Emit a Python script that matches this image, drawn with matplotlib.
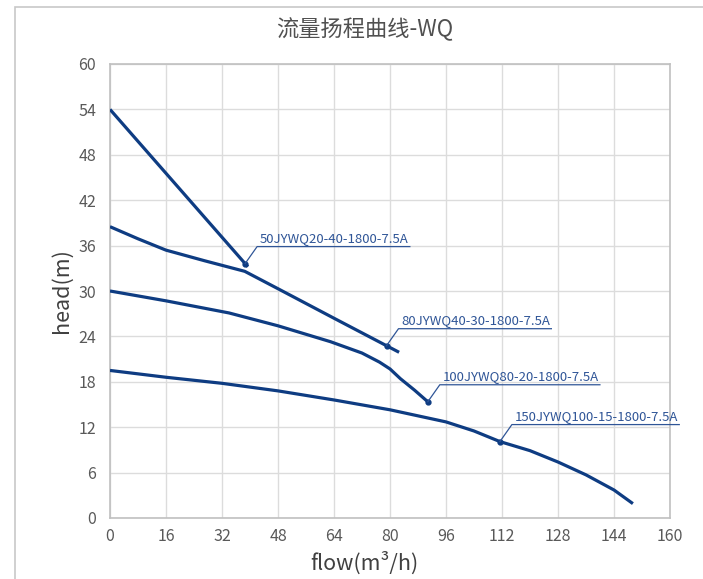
import numpy as np
import matplotlib
matplotlib.use('Agg')
import matplotlib.pyplot as plt
from matplotlib.lines import Line2D
from matplotlib.patches import Rectangle
from matplotlib.transforms import IdentityTransform

plt.rcParams['font.family'] = ['Noto Sans CJK SC', 'DejaVu Sans']

# 曲线数据 (flow m3/h, head m)
q1 = [0, 39.4]
h1 = [54, 33.2]

q2 = [0, 8, 16, 27, 38.5, 48, 64, 82.6]
h2 = [38.5, 36.9, 35.4, 34.0, 32.6, 30.3, 26.4, 21.9]

q3 = [0, 16, 34, 48, 63, 72, 77, 80, 83, 87, 91.2]
h3 = [30.0, 28.7, 27.1, 25.4, 23.3, 21.8, 20.6, 19.7, 18.4, 16.9, 15.2]

q4 = [0, 16, 32, 48, 64, 80, 96, 104, 111.4, 120, 128, 136, 144, 149.4]
h4 = [19.5, 18.6, 17.8, 16.8, 15.6, 14.3, 12.7, 11.5, 10.1, 8.9, 7.4, 5.7, 3.7, 1.9]

curves = [(q1, h1), (q2, h2), (q3, h3), (q4, h4)]
names = ['50JYWQ20-40-1800-7.5A', '80JYWQ40-30-1800-7.5A',
         '100JYWQ80-20-1800-7.5A', '150JYWQ100-15-1800-7.5A']
label_q = [38.6, 79.0, 90.8, 111.4]

xticks = [0, 16, 32, 48, 64, 80, 96, 112, 128, 144, 160]
yticks = [0, 6, 12, 18, 24, 30, 36, 42, 48, 54, 60]

line_color = '#0E3C82'
ann_color = '#2F5597'

W, H = 703, 579
fig = plt.figure(figsize=(W / 100, H / 100), dpi=100)
ax = fig.add_axes([110 / W, 1 - 518 / H, 560 / W, 454 / H])

# 外框
fig.patches.append(Rectangle((15 / W, -0.1), 1.2, 1 - 7 / H + 0.1, transform=fig.transFigure,
                             fill=False, edgecolor='#c8c8c8', linewidth=1.2))

for q, h in curves:
    ax.plot(q, h, color=line_color, linewidth=2.3, solid_capstyle='butt', zorder=3)

ax.set_xlim(0, 160)
ax.set_ylim(0, 60)
ax.set_xticks(xticks)
ax.set_yticks(yticks)
ax.grid(True, color='#dcdcdc', linewidth=1)
ax.set_axisbelow(True)
for s in ax.spines.values():
    s.set_color('#c0c0c0')
    s.set_linewidth(1.2)
ax.tick_params(length=0, colors='#595959', labelsize=11.5)
ax.tick_params(axis='y', pad=10)
ax.tick_params(axis='x', pad=7)

ax.set_xlabel('flow(m³/h)', fontsize=15.5, color='#404040')
ax.xaxis.set_label_coords((364 - 110) / 560, -0.075)
ax.set_ylabel('head(m)', fontsize=15.5, color='#404040', labelpad=4)
fig.text(365 / W, 1 - 29 / H, '流量扬程曲线-WQ', fontsize=16, color='#505050',
         ha='center', va='center')

# 数据标签
fig.canvas.draw()
renderer = fig.canvas.get_renderer()
for (q, h), name, lq in zip(curves, names, label_q):
    lh = np.interp(lq, q, h)
    px, py = ax.transData.transform((lq, lh))
    ax.plot([lq], [lh], 'o', color=line_color, markersize=3.5, zorder=4)
    tx, ty = px + 12, py + 17
    t = fig.text(tx + 3, ty + 2, name, transform=IdentityTransform(), fontsize=9.5,
                 color=ann_color, ha='left', va='bottom')
    bb = t.get_window_extent(renderer)
    fig.lines.append(Line2D([px, tx, bb.x1 + 1], [py, ty, ty], transform=IdentityTransform(),
                            color=ann_color, linewidth=0.9))

fig.savefig('out.png', dpi=100)
